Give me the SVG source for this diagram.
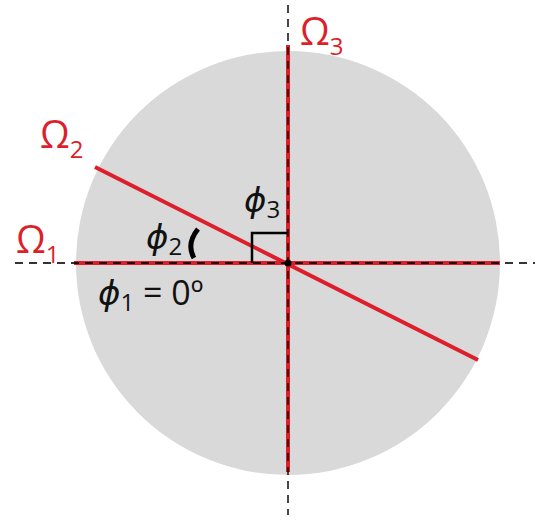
<svg xmlns="http://www.w3.org/2000/svg" width="538" height="520" viewBox="0 0 538 520">
<style>
.red{stroke:#dc1f2b;stroke-width:4;fill:none}
.dash{stroke:#000;stroke-width:1.8;stroke-dasharray:8,6;fill:none}
.om{font-family:"Open Sans","DejaVu Sans",sans-serif;fill:#dc1f2b;font-size:38px}
.sub{font-size:24px}
.phi{font-family:"Open Sans","DejaVu Sans",sans-serif;fill:#111;font-size:34px}
</style>
<rect width="538" height="520" fill="#fff"/>
<g id="disc"><circle cx="288" cy="263" r="212" fill="#d9d9d9"/></g>
<g id="connectors">
<line class="red" x1="74" y1="263" x2="500" y2="263"/>
<line class="red" x1="288" y1="45" x2="288" y2="472"/>
<line class="red" x1="95" y1="167" x2="478" y2="360"/>
<line class="dash" x1="15" y1="263" x2="535" y2="263" stroke-opacity="0.8"/>
<line class="dash" x1="288" y1="5" x2="288" y2="515" stroke-opacity="0.8"/>
<polyline points="252,263 252,233 288,233" fill="none" stroke="#000" stroke-width="2.5"/>
<path d="M198,229 Q186,244 194,258" fill="none" stroke="#000" stroke-width="5"/>
<circle cx="288" cy="263" r="3.5" fill="#000"/>
</g>
<g id="omega1"><text class="om" x="16" y="253">Ω<tspan class="sub" dy="10">1</tspan></text></g>
<g id="omega2"><text class="om" x="40" y="148">Ω<tspan class="sub" dy="10">2</tspan></text></g>
<g id="omega3"><text class="om" x="300" y="45">Ω<tspan class="sub" dy="10">3</tspan></text></g>
<g id="phi2"><text class="phi" x="146" y="249" font-style="italic">ϕ<tspan class="sub" font-style="normal" dy="6">2</tspan></text></g>
<g id="phi3"><text class="phi" x="244" y="212" font-style="italic">ϕ<tspan class="sub" font-style="normal" dy="6">3</tspan></text></g>
<g id="phi1"><text class="phi" x="98" y="305"><tspan font-style="italic">ϕ</tspan><tspan class="sub" dy="6">1</tspan><tspan dy="-6"> = 0º</tspan></text></g>
</svg>
